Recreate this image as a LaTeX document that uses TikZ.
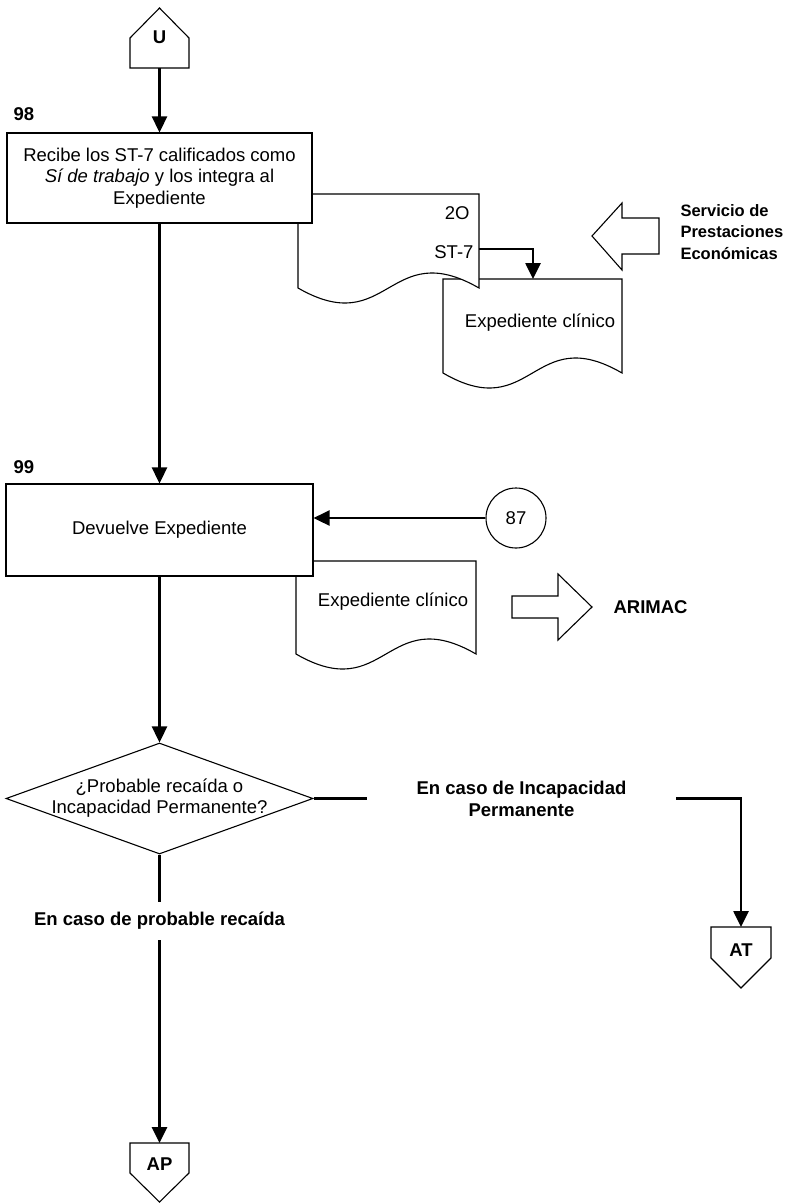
\documentclass[tikz,border=0pt]{standalone}
\usepackage{fontspec}
\setmainfont{Liberation Sans}
\usetikzlibrary{arrows.meta,shapes.geometric}

% document symbol: left x, top y, right x, base y of the wavy edge
\newcommand\docshape[4]{%
  \filldraw[outline] (#1,#2) -- (#3,#2) -- (#3,#4)
    .. controls ({(#1+#3)/2},{#4-52}) and ({(#1+#3)/2},{#4+52}) .. (#1,#4) -- cycle;}

\begin{document}
\begin{tikzpicture}[x=1pt,y=-1pt,
  every node/.style={font=\fontsize{18.5}{21.5}\selectfont},
  outline/.style={draw=black,line width=1.1pt,fill=white},
  procbox/.style={outline,rectangle,inner sep=0pt,align=center},
  flow/.style={line width=2.6pt,-{Triangle[length=16pt,width=15pt]}},
  plain/.style={line width=2.6pt},
  bold/.style={font=\fontsize{18.5}{22}\selectfont\bfseries},
]
\useasboundingbox (0,0) rectangle (796,1203);

% ---- off-page connector U
\filldraw[outline] (130,68) -- (189,68) -- (189,38) -- (159.5,8) -- (130,38) -- cycle;
\node[bold] (uLbl) at (159.5,37) {U};
\coordinate (uBot) at (159.5,68);

% ---- documents around step 98
\docshape{443}{279}{622}{373}
\node (ec1) at (540,323) {Expediente clínico};
\docshape{298}{194}{479}{288}
\node[anchor=east] (f2o) at (473,213) {2O};
\node[anchor=east] (fst7) at (477,252) {ST-7};
\coordinate (st7out) at (479,249);
\coordinate (ec1top) at (533,279);

% ---- step 98
\node[bold,anchor=west] (n98) at (10,114) {98};
\node[procbox,minimum width=305pt,minimum height=90pt] (b98) at (159.5,178)
  {Recibe los ST-7 calificados como\\ \textit{Sí de trabajo} y los integra al\\ Expediente};

% ---- incoming block arrow
\filldraw[outline] (592,236) -- (622,203) -- (622,218) -- (659,218) -- (659,254)
  -- (622,254) -- (622,270) -- cycle;
\node[anchor=west,align=left,font=\fontsize{16.5}{21.5}\selectfont\bfseries] (spe) at (677,232)
  {Servicio de\\ Prestaciones\\ Económicas};

% ---- document after step 99
\docshape{296}{561}{476}{654}
\node (ec2) at (393,602) {Expediente clínico};

% ---- step 99
\node[bold,anchor=west] (n99) at (10,467) {99};
\node[procbox,minimum width=307pt,minimum height=92pt] (b99) at (159.5,530)
  {Devuelve Expediente};
\node[outline,circle,minimum size=60pt,inner sep=0pt] (c87) at (516,518) {87};

% ---- outgoing block arrow
\filldraw[outline] (512,596) -- (558,596) -- (558,574) -- (592,607) -- (558,640)
  -- (558,618) -- (512,618) -- cycle;
\node[bold,anchor=west] (arimac) at (610,607) {ARIMAC};

% ---- decision
\node[outline,diamond,minimum width=307pt,minimum height=111pt,inner sep=0pt] (dia) at (159.5,798.5) {};
\node[align=center] (diaTxt) at (159.5,798) {¿Probable recaída o\\ Incapacidad Permanente?};
\node[bold,align=center,minimum width=309pt,inner sep=0pt] (lblIP) at (521.5,798.5)
  {En caso de Incapacidad\\ Permanente};
\node[bold,minimum height=38pt,inner sep=0pt] (lblPR) at (159.5,921) {En caso de probable recaída};

% ---- off-page connector AT
\filldraw[outline] (711,927) -- (771,927) -- (771,958) -- (741,988) -- (711,958) -- cycle;
\node[bold] (atLbl) at (741,950) {AT};
\coordinate (atTop) at (741,927);

% ---- off-page connector AP
\filldraw[outline] (130,1143) -- (189,1143) -- (189,1173) -- (159.5,1202) -- (130,1173) -- cycle;
\node[bold] (apLbl) at (159.5,1164) {AP};
\coordinate (apTop) at (159.5,1143);

% ---- connectors
\draw[flow] (uBot) -- (uBot |- b98.north);
\draw[flow] (st7out) -| (ec1top);
\draw[flow] (b98.south) -- (b99.north);
\draw[flow] (c87.west) -- (b99.east |- c87.west);
\draw[flow] (b99.south) -- (dia.north);
\draw[plain] (dia.east) -- (lblIP.west);
\draw[flow] (lblIP.east) -| (atTop);
\draw[plain] (dia.south) -- (lblPR.north);
\draw[flow] (lblPR.south) -- (apTop);
\end{tikzpicture}
\end{document}
